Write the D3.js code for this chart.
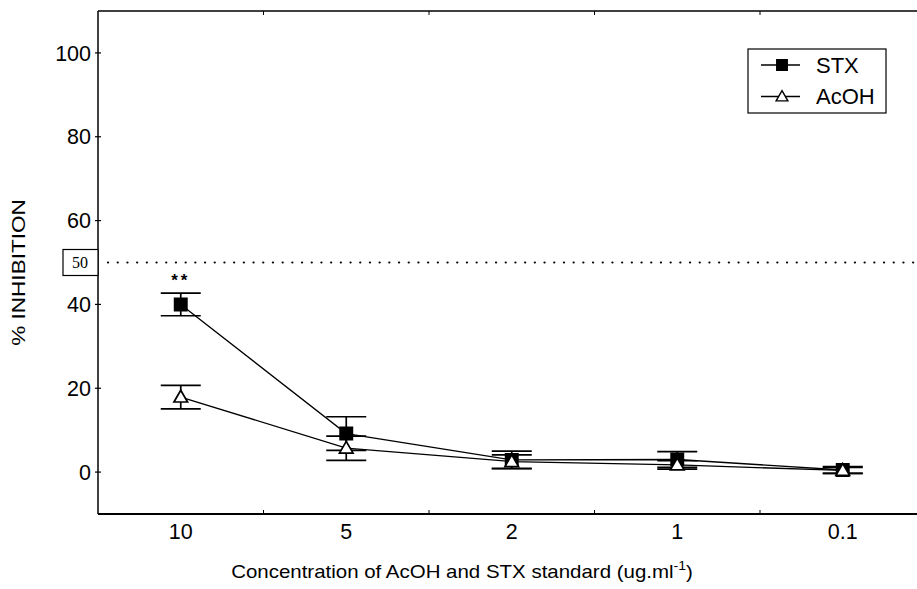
<!DOCTYPE html>
<html>
<head>
<meta charset="utf-8">
<script src="https://cdn.jsdelivr.net/npm/d3@7"></script>
<style>
  body { margin: 0; background: #fff; }
  svg { display: block; font-family: "Liberation Sans", Arial, sans-serif; }
</style>
</head>
<body>
<div id="box"></div>
<script>
// data
const categories = ['10', '5', '2', '1', '0.1'];
const stxMean  = [40.0, 9.2, 2.9, 3.0, 0.5];
const stxErr   = [2.7, 4.0, 2.1, 1.9, 0.8];
const acohMean = [17.9, 5.7, 2.5, 1.7, 0.4];
const acohErr  = [2.8, 2.9, 1.6, 1.0, 0.7];
const yTicks   = [0, 20, 40, 60, 80, 100];
const refLine  = 50;

const width = 917, height = 589;
const padLeft = 98, padTop = 11, padBottom = 514;

const svg = d3.select('#box').append('svg')
  .attr('width', width)
  .attr('height', height);

// band scale runs past the right edge, like the cropped original
const x = d3.scaleBand()
  .domain(categories)
  .range([padLeft, padLeft + 5 * 165.5]);

const y = d3.scaleLinear()
  .domain([-10, 110])
  .range([padBottom, padTop]);

const cx = d => x(d) + x.bandwidth() / 2;

// frame lines
const frame = svg.append('g').attr('stroke', '#000').attr('fill', 'none');
frame.append('line')
  .attr('x1', padLeft).attr('x2', x.range()[1])
  .attr('y1', y(-10)).attr('y2', y(-10))
  .attr('stroke-width', 2);
frame.append('line')
  .attr('x1', padLeft).attr('x2', x.range()[1])
  .attr('y1', y(110)).attr('y2', y(110))
  .attr('stroke-width', 1.5);
frame.append('line')
  .attr('x1', padLeft).attr('x2', padLeft)
  .attr('y1', y(110)).attr('y2', y(-10))
  .attr('stroke-width', 1.5);

// minor ticks on band boundaries (bottom and top)
const bounds = categories.slice(1);
frame.selectAll('.btick').data(bounds)
  .join('line')
  .attr('class', 'btick')
  .attr('x1', d => x(d)).attr('x2', d => x(d))
  .attr('y1', y(-10)).attr('y2', y(-10) - 4)
  .attr('stroke-width', 1);
frame.selectAll('.ttick').data(bounds)
  .join('line')
  .attr('class', 'ttick')
  .attr('x1', d => x(d)).attr('x2', d => x(d))
  .attr('y1', y(110)).attr('y2', y(110) + 4)
  .attr('stroke-width', 1);

// y ticks
frame.selectAll('.ytick').data(yTicks)
  .join('line')
  .attr('class', 'ytick')
  .attr('x1', padLeft - 3).attr('x2', padLeft + 3)
  .attr('y1', d => y(d)).attr('y2', d => y(d))
  .attr('stroke-width', 1.2);

svg.selectAll('.ylab').data(yTicks)
  .join('text')
  .attr('class', 'ylab')
  .attr('x', padLeft - 7)
  .attr('y', d => y(d))
  .attr('dy', '0.36em')
  .attr('text-anchor', 'end')
  .style('font-size', '21.5px')
  .text(d => d);

svg.selectAll('.xlab').data(categories)
  .join('text')
  .attr('class', 'xlab')
  .attr('x', d => cx(d))
  .attr('y', 539)
  .attr('text-anchor', 'middle')
  .style('font-size', '21.5px')
  .text(d => d);

// axis titles (the scanned lettering is wide, so stretch it along its run)
const xt = svg.append('text')
  .attr('transform', 'translate(462,578) scale(1.17,1)')
  .attr('text-anchor', 'middle')
  .style('font-size', '17.5px');
xt.append('tspan').text('Concentration of AcOH and STX standard (ug.ml');
xt.append('tspan').attr('dy', -8).style('font-size', '12px').text('-1');
xt.append('tspan').attr('dy', 8).text(')');

svg.append('text')
  .attr('transform', `translate(25,${(y(110) + y(-10)) / 2 + 10}) rotate(-90) scale(1.22,1)`)
  .attr('text-anchor', 'middle')
  .style('font-size', '18.5px')
  .text('% INHIBITION');

// 50% reference line with boxed label
svg.append('line')
  .attr('x1', padLeft + 10).attr('x2', width)
  .attr('y1', y(refLine)).attr('y2', y(refLine))
  .attr('stroke', '#000')
  .attr('stroke-width', 2.2)
  .attr('stroke-linecap', 'round')
  .attr('stroke-dasharray', '0.1 9.6');
svg.append('rect')
  .attr('x', 63).attr('y', y(refLine) - 13)
  .attr('width', padLeft - 63).attr('height', 26)
  .attr('fill', '#fff')
  .attr('stroke', '#000')
  .attr('stroke-width', 1.2);
svg.append('text')
  .attr('x', 80).attr('y', y(refLine))
  .attr('dy', '0.35em')
  .attr('text-anchor', 'middle')
  .style('font-family', '"Liberation Serif", "DejaVu Serif", serif')
  .style('font-size', '16px')
  .text(refLine);

// series
const series = [
  { name: 'STX',  mean: stxMean,  err: stxErr,  shape: d3.symbolSquare,   fill: '#000' },
  { name: 'AcOH', mean: acohMean, err: acohErr, shape: d3.symbolTriangle, fill: '#fff' }
];

const line = d3.line()
  .x(d => cx(d.cat))
  .y(d => y(d.v));

series.forEach(s => {
  const pts = categories.map((c, i) => ({ cat: c, v: s.mean[i], e: s.err[i] }));
  const g = svg.append('g');

  g.append('path')
    .attr('d', line(pts))
    .attr('fill', 'none')
    .attr('stroke', '#000')
    .attr('stroke-width', 1.3);

  const eb = g.selectAll('.eb').data(pts).join('g').attr('class', 'eb')
    .attr('stroke', '#000').attr('stroke-width', 1.7);
  eb.append('line')
    .attr('x1', d => cx(d.cat)).attr('x2', d => cx(d.cat))
    .attr('y1', d => y(d.v + d.e)).attr('y2', d => y(d.v - d.e));
  eb.append('line')
    .attr('x1', d => cx(d.cat) - 20).attr('x2', d => cx(d.cat) + 20)
    .attr('y1', d => y(d.v + d.e)).attr('y2', d => y(d.v + d.e));
  eb.append('line')
    .attr('x1', d => cx(d.cat) - 20).attr('x2', d => cx(d.cat) + 20)
    .attr('y1', d => y(d.v - d.e)).attr('y2', d => y(d.v - d.e));

  g.selectAll('.pt').data(pts)
    .join('path')
    .attr('class', 'pt')
    .attr('transform', d => `translate(${cx(d.cat)},${y(d.v) + (s.name === 'AcOH' ? 1 : 0)})`)
    .attr('d', d3.symbol().type(s.shape).size(s.name === 'STX' ? 150 : 80))
    .attr('fill', s.fill)
    .attr('stroke', '#000')
    .attr('stroke-width', 1.7);
});

// significance mark
svg.append('text')
  .attr('x', cx('10'))
  .attr('y', y(stxMean[0] + stxErr[0]) - 7)
  .attr('text-anchor', 'middle')
  .style('font-size', '17px')
  .style('font-weight', 'bold')
  .style('letter-spacing', '3px')
  .text('**');

// legend
const lg = svg.append('g').attr('transform', 'translate(748,49)');
lg.append('rect')
  .attr('width', 138).attr('height', 64)
  .attr('fill', '#fff')
  .attr('stroke', '#000')
  .attr('stroke-width', 1.2);
series.forEach((s, i) => {
  const ry = 16 + i * 31.5;
  lg.append('line')
    .attr('x1', 13).attr('x2', 52)
    .attr('y1', ry).attr('y2', ry)
    .attr('stroke', '#000')
    .attr('stroke-width', 1.3);
  lg.append('path')
    .attr('transform', `translate(34,${ry + (s.name === 'AcOH' ? 1 : 0)})`)
    .attr('d', d3.symbol().type(s.shape).size(s.name === 'STX' ? 110 : 60))
    .attr('fill', s.fill)
    .attr('stroke', '#000')
    .attr('stroke-width', 1.4);
  lg.append('text')
    .attr('x', 68).attr('y', ry)
    .attr('dy', '0.36em')
    .style('font-size', '22px')
    .text(s.name);
});
</script>
</body>
</html>
